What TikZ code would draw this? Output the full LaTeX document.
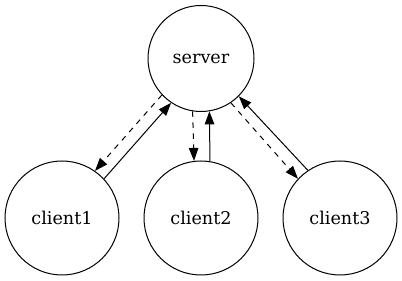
\documentclass[tikz,border=0pt]{standalone}
\usepackage{fontspec}
\setmainfont{DejaVu Serif}
\usetikzlibrary{arrows.meta}
\begin{document}
\begin{tikzpicture}[x=1pt,y=1pt,
  every node/.style={font=\fontsize{17.6}{20}\selectfont},
  srv/.style={circle,draw,line width=1pt,inner sep=0pt,minimum size=106pt},
  cli/.style={circle,draw,line width=1pt,inner sep=0pt,minimum size=114pt},
  req/.style={line width=1pt,dash pattern=on 5.5pt off 5.5pt,-{Triangle[length=13pt,width=9.5pt]}},
  rep/.style={line width=1pt,-{Triangle[length=13pt,width=9.5pt]}}]
\useasboundingbox (0,0) rectangle (402,281);
\node[srv] (server) at (201,222.5) {server};
\node[cli] (client1) at (62,63) {client1};
\node[cli] (client2) at (201,63) {client2};
\node[cli] (client3) at (340,63) {client3};
\draw[req] (server.223) -- (client1.55);
\draw[rep] (client1.43) -- (server.236);
\draw[req] (server.261.5) -- (client2.97.8);
\draw[rep] (client2.81.6) -- (server.279);
\draw[req] (server.304.5) -- (client3.137);
\draw[rep] (client3.124.5) -- (server.315.5);
\end{tikzpicture}
\end{document}
